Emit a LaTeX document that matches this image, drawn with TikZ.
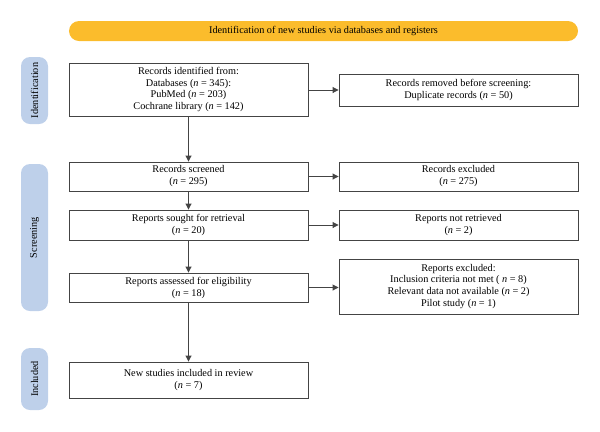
\documentclass[tikz,border=0pt]{standalone}
\usepackage{fontspec}
\setmainfont{Liberation Serif}
\usetikzlibrary{arrows.meta}
\definecolor{bannerc}{HTML}{FBBC2C}
\definecolor{sidec}{HTML}{BED0EA}
\definecolor{edgec}{HTML}{444444}
\tikzset{
  box/.style={draw=edgec, line width=0.9bp, fill=white, align=center, inner sep=0pt,
    minimum width=239bp, font=\fontsize{10.3}{12}\selectfont},
  sidelab/.style={fill=sidec, rounded corners=9bp, minimum width=27bp, inner sep=0pt,
    font=\fontsize{10.3}{12}\selectfont, rotate=90},
  banner/.style={fill=bannerc, rounded corners=10bp, minimum width=509bp, minimum height=20bp,
    inner sep=0pt, font=\fontsize{10.3}{12}\selectfont},
  arr/.style={draw=edgec, line width=0.9bp, -{Triangle[length=6bp,width=6bp]}}
}
\begin{document}
\begin{tikzpicture}[x=1bp,y=-1bp]
\useasboundingbox (0,0) rectangle (600,431);
\node[banner] (ban) at (323.5,31) {Identification of new studies via databases and registers};
\node[sidelab, minimum height=27bp, minimum width=67bp] (idl) at (34.5,90.5) {Identification};
\node[sidelab, minimum height=27bp, minimum width=147bp] (scl) at (34.5,237.5) {Screening};
\node[sidelab, minimum height=27bp, minimum width=62bp] (inl) at (34.5,379) {Included};

\node[box, minimum height=53bp] (b1) at (188.5,89.5) {Records identified from:\\Databases (\textit{n} = 345):\\PubMed (\textit{n} = 203)\\Cochrane library (\textit{n} = 142)};
\node[box, minimum height=32bp] (r1) at (458.5,90) {Records removed before screening:\\Duplicate records (\textit{n} = 50)};
\node[box, minimum height=29bp] (b2) at (188.5,176.5) {Records screened\\(\textit{n} = 295)};
\node[box, minimum height=29bp] (r2) at (458.5,176.5) {Records excluded\\(\textit{n} = 275)};
\node[box, minimum height=30bp] (b3) at (188.5,225) {Reports sought for retrieval\\(\textit{n} = 20)};
\node[box, minimum height=30bp] (r3) at (458.5,225) {Reports not retrieved\\(\textit{n} = 2)};
\node[box, minimum height=29bp] (b4) at (188.5,287.5) {Reports assessed for eligibility\\(\textit{n} = 18)};
\node[box, minimum height=55bp] (r4) at (458.5,286.5) {Reports excluded:\\Inclusion criteria not met ( \textit{n} = 8)\\Relevant data not available (\textit{n} = 2)\\Pilot study (\textit{n} = 1)};
\node[box, minimum height=36bp] (b5) at (188.5,380) {New studies included in review\\(\textit{n} = 7)};

\draw[arr] (b1) -- (b2);
\draw[arr] (b2) -- (b3);
\draw[arr] (b3) -- (b4);
\draw[arr] (b4) -- (b5);
\draw[arr] (b1.east |- r1.west) -- (r1.west);
\draw[arr] (b2) -- (r2);
\draw[arr] (b3) -- (r3);
\draw[arr] (b4.east) -- (b4.east -| r4.west);
\end{tikzpicture}
\end{document}
